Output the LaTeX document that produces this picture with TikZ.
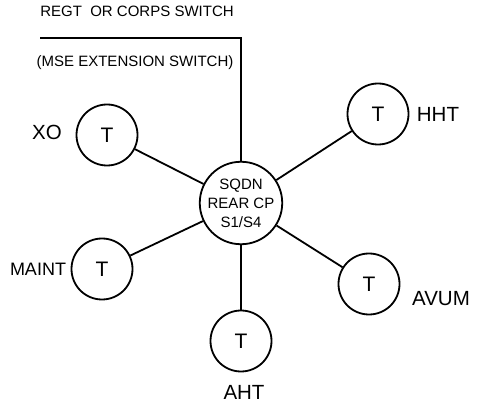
\documentclass[tikz,border=0pt]{standalone}
\usepackage{fontspec}
\setmainfont{Liberation Sans}
\begin{document}
\begin{tikzpicture}[
			x=1pt, y=-1pt,
			every node/.style={font=\fontsize{20.5}{22}\selectfont},
			term/.style={draw, circle, line width=1.8pt, minimum size=61pt, inner sep=0pt, font=\fontsize{21}{22}\selectfont},
			hub/.style={draw, circle, line width=1.8pt, minimum size=78pt, inner sep=0pt, align=center, font=\fontsize{15}{19}\selectfont},
			link/.style={line width=1.8pt}
			]
			\useasboundingbox (0,0) rectangle (480,409);
			
			% Switch
			\node (regt) at (137,11) {\fontsize{15}{16}\selectfont REGT\ \ OR CORPS SWITCH};
			\node (mse) at (135,63) {\fontsize{15}{16}\selectfont (MSE EXTENSION SWITCH)};
			\coordinate (corner) at (241,38);
			\coordinate (swend) at (40,38);
			
			% Rear CP
			\node (cp) [hub] at (241,203) {SQDN\\REAR CP\\S1/S4};
			\draw[link] (cp) -- (corner) -- (swend);
			
			% Terminals
			\node (xo) [term] at (107,135) {T};
			\node at (47,132) {XO};
			\node (maint) [term] at (102,269) {T};
			\node at (38,269) {\fontsize{18}{20}\selectfont MAINT};
			\node (aht) [term] at (241,341) {T};
			\node at (244,392) {AHT};
			\node (avum) [term] at (369,284) {T};
			\node at (441,299) {AVUM};
			\node (hht) [term] at (378,114) {T};
			\node at (438,114) {HHT};
			
			\draw[link] (cp) -- (xo);
			\draw[link] (cp) -- (maint);
			\draw[link] (cp) -- (aht);
			\draw[link] (cp) -- (avum);
			\draw[link] (cp) -- (hht);
		\end{tikzpicture}
\end{document}
